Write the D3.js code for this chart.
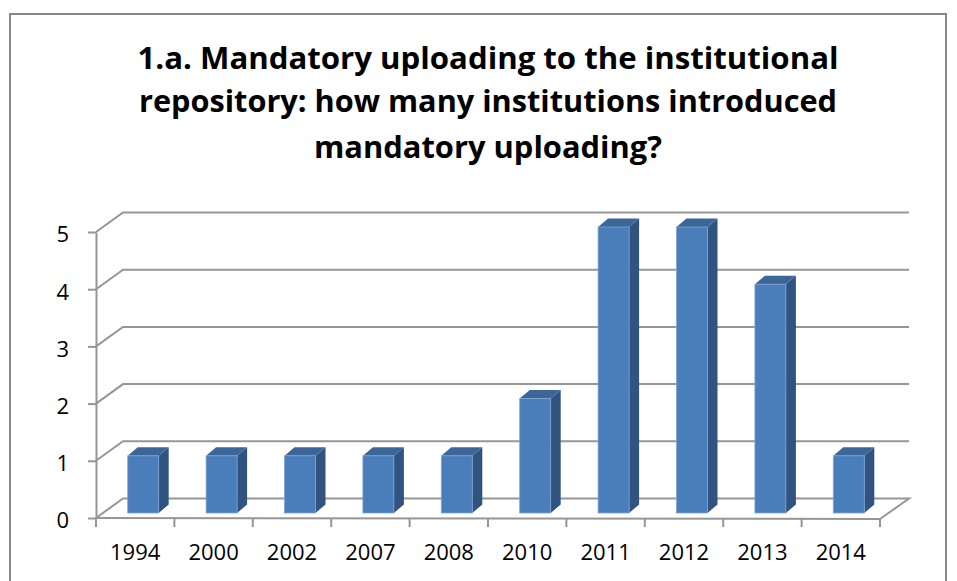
<!DOCTYPE html>
<html>
<head>
<meta charset="utf-8">
<script src="https://cdn.jsdelivr.net/npm/d3@7"></script>
<style>
  html, body { margin: 0; padding: 0; background: #fff; }
  svg { display: block; }
  text { font-family: "Open Sans", "Liberation Sans", sans-serif; fill: #000; }
</style>
</head>
<body>
<svg id="chart" width="957" height="581"></svg>
<script>
// Year of introduction and number of institutions
const years = ["1994", "2000", "2002", "2007", "2008", "2010", "2011", "2012", "2013", "2014"];
const counts = [1, 1, 1, 1, 1, 2, 5, 5, 4, 1];
const yTicks = [0, 1, 2, 3, 4, 5];
const titleLines = [
  "1.a. Mandatory uploading to the institutional",
  "repository: how many institutions introduced",
  "mandatory uploading?"
];

const svg = d3.select("#chart");

// Chart frame
svg.append("rect")
  .attr("x", 10).attr("y", 14)
  .attr("width", 936).attr("height", 600)
  .attr("fill", "#fff")
  .attr("stroke", "#878787").attr("stroke-width", 2);

// Title
const titleX = 488;
const titleY = [69, 112, 158];
const titleLen = [701, 698, 348];
svg.append("g").selectAll("text")
  .data(titleLines)
  .join("text")
  .attr("x", titleX)
  .attr("y", (d, i) => titleY[i])
  .attr("text-anchor", "middle")
  .attr("font-size", 29.5)
  .attr("font-weight", "bold")
  .attr("textLength", (d, i) => titleLen[i])
  .attr("lengthAdjust", "spacingAndGlyphs")
  .text(d => d);

// Scales for the front plane of the 3-D plot box
const x = d3.scaleBand().domain(years).range([96, 880]).padding(0);
const y = d3.scaleLinear().domain([0, 5]).range([518, 232]);

// Depth of the plot box (front → back)
const depthXL = 27, depthXR = 29, depthY = -19.5;
const gridColor = "#969696";

const grid = svg.append("g")
  .attr("fill", "none")
  .attr("stroke", gridColor)
  .attr("stroke-width", 2);

// Gridlines on the side/back walls
grid.selectAll("path.gl")
  .data(yTicks.filter(v => v > 0))
  .join("path")
  .attr("class", "gl")
  .attr("d", v => {
    const yy = y(v);
    return `M${x.range()[0]},${yy} L${x.range()[0] + depthXL},${yy + depthY} L${x.range()[1] + depthXR},${yy + depthY}`;
  });

// Floor
const x0 = x.range()[0], x1 = x.range()[1], y0 = y(0);
grid.append("path")
  .attr("d", `M${x0},${y0} L${x0 + depthXL},${y0 + depthY} L${x1 + depthXR},${y0 + depthY} L${x1},${y0 + 1}`);

// Y axis
const yAxis = d3.axisLeft(y)
  .tickValues(yTicks)
  .tickSize(8)
  .tickSizeOuter(0)
  .tickFormat(d3.format("d"));
const gy = svg.append("g")
  .attr("transform", `translate(${x0},0)`)
  .call(yAxis);
gy.select(".domain").attr("stroke", gridColor).attr("stroke-width", 2);
gy.selectAll(".tick line").attr("stroke", gridColor).attr("stroke-width", 2);
gy.selectAll(".tick text")
  .attr("x", -27)
  .attr("dy", "0.45em")
  .attr("font-size", 22)
  .attr("font-family", "'Open Sans', sans-serif")
  .attr("fill", "#000");

// X axis: front floor edge, ticks at category boundaries, labels centred
const gx = svg.append("g");
gx.append("line")
  .attr("x1", x0).attr("x2", x1)
  .attr("y1", y0).attr("y2", y0 + 1)
  .attr("stroke", gridColor).attr("stroke-width", 2);
const boundaries = years.map(d => x(d)).concat([x1]);
gx.selectAll("line.tk")
  .data(boundaries)
  .join("line")
  .attr("class", "tk")
  .attr("x1", d => d).attr("x2", d => d)
  .attr("y1", y0).attr("y2", y0 + 9)
  .attr("stroke", gridColor).attr("stroke-width", 2);
gx.selectAll("text")
  .data(years)
  .join("text")
  .attr("x", d => x(d) + x.bandwidth() / 2)
  .attr("y", 560)
  .attr("text-anchor", "middle")
  .attr("font-size", 22)
  .text(d => d);

// 3-D columns
const barW = 31, barShiftX = 8, barShiftY = -5;
const bdx = 10, bdy = -8.5;
const data = years.map((yr, i) => ({ yr, v: counts[i] }));

const bars = svg.append("g").selectAll("g.bar")
  .data(data)
  .join("g")
  .attr("class", "bar");

bars.each(function (d) {
  const g = d3.select(this);
  const fx = x(d.yr) + x.bandwidth() / 2 + barShiftX - barW / 2;
  const bottom = y(0) + barShiftY;
  const top = y(d.v) + barShiftY;
  // side face
  g.append("path")
    .attr("d", `M${fx + barW},${top} L${fx + barW + bdx},${top + bdy} L${fx + barW + bdx},${bottom + bdy} L${fx + barW},${bottom} Z`)
    .attr("fill", "#30537f");
  // top face
  g.append("path")
    .attr("d", `M${fx},${top} L${fx + bdx},${top + bdy} L${fx + barW + bdx},${top + bdy} L${fx + barW},${top} Z`)
    .attr("fill", "#3c6698");
  // front face
  g.append("rect")
    .attr("x", fx).attr("y", top)
    .attr("width", barW).attr("height", bottom - top)
    .attr("fill", "#4a7ebb")
    .attr("stroke", "#7ea3d3")
    .attr("stroke-width", 0.8);
});
</script>
</body>
</html>
